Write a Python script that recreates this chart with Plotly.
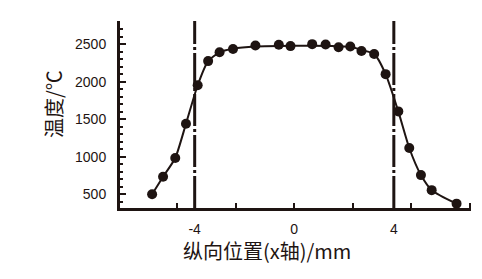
import plotly.graph_objects as go

# measured points
pos_x = [-5.71, -5.27, -4.78, -4.35, -3.88, -3.46, -3.0, -2.46, -1.56, -0.62, -0.15,
         0.72, 1.26, 1.78, 2.25, 2.70, 3.21, 3.67, 4.18, 4.62, 5.09, 5.52, 6.52]
temp = [500, 732, 983, 1440, 1954, 2276, 2393, 2437, 2484, 2493, 2476,
        2502, 2498, 2461, 2470, 2410, 2370, 2102, 1605, 1117, 755, 554, 374]

# fitted curve
curve_x = [-5.71, -5.27, -4.78, -4.35, -3.88, -3.46, -3.0, -2.46, -1.56, 0.0,
           1.5, 2.25, 2.70, 3.21, 3.67, 4.18, 4.62, 5.09, 5.52, 6.52]
curve_y = [500, 732, 983, 1440, 1954, 2276, 2393, 2440, 2470, 2480,
           2478, 2466, 2425, 2372, 2102, 1605, 1117, 755, 554, 374]

boundary_x = [-4, 4]
x_labels = [-4, 0, 4]
y_labels = [500, 1000, 1500, 2000, 2500]

INK = "#1e1412"

fig = go.Figure()
fig.add_trace(go.Scatter(x=curve_x, y=curve_y, mode="lines",
                         line=dict(color=INK, width=2, shape="spline", smoothing=0.6),
                         hoverinfo="skip", showlegend=False))
fig.add_trace(go.Scatter(x=pos_x, y=temp, mode="markers",
                         marker=dict(color=INK, size=10, symbol="circle"),
                         showlegend=False))

for bx in boundary_x:
    fig.add_shape(type="line", x0=bx, x1=bx, xref="x", y0=0, y1=1, yref="paper",
                  line=dict(color=INK, width=3, dash="32px,3px,3px,3px"))

fig.update_layout(
    width=482, height=279,
    margin=dict(l=120, r=11, t=21, b=71),
    paper_bgcolor="white", plot_bgcolor="white",
    font=dict(family="Liberation Sans, Arial, sans-serif", color=INK, size=14),
    xaxis=dict(range=[-7.0, 7.1], showgrid=False, zeroline=False,
               showline=True, linecolor=INK, linewidth=3,
               tickvals=x_labels, ticktext=[str(v) for v in x_labels],
               ticks="", ticklabelstandoff=6,
               minor=dict(ticks="inside", tick0=0, dtick=2.35, ticklen=5,
                          tickwidth=2, tickcolor=INK, showgrid=False)),
    yaxis=dict(range=[316, 2811], showgrid=False, zeroline=False,
               showline=True, linecolor=INK, linewidth=3,
               tickvals=y_labels, ticks="inside", ticklen=6, tickwidth=2,
               tickcolor=INK, ticklabelstandoff=8,
               minor=dict(ticks="inside", dtick=100, ticklen=3, tickwidth=1.5,
                          tickcolor=INK, showgrid=False)),
    annotations=[
        dict(text="纵向位置(x轴)/mm", xref="paper", yref="paper",
             x=(267 - 120) / 351, y=-0.225, xanchor="center", yanchor="middle",
             showarrow=False,
             font=dict(family="Noto Sans CJK SC", size=20, color=INK)),
        dict(text="温度/℃", xref="paper", yref="paper",
             x=(53 - 120) / 351, y=(208 - 104) / 187, xanchor="center", yanchor="middle",
             textangle=-90, showarrow=False,
             font=dict(family="Noto Sans CJK SC", size=20, color=INK)),
    ],
)

fig.write_html("out.html")
